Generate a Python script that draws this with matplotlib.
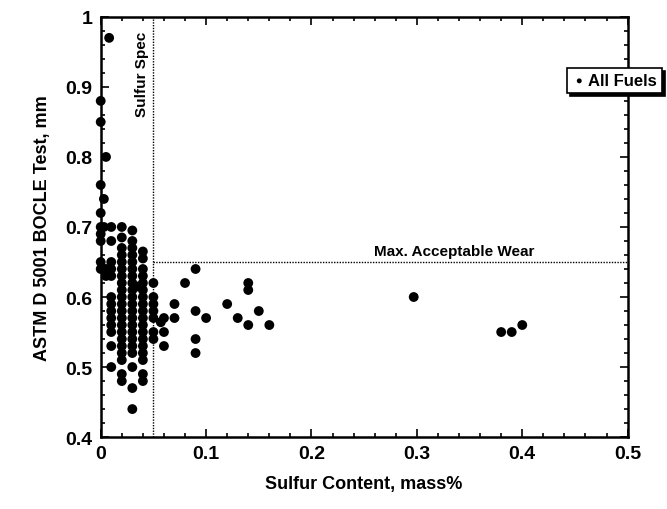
import numpy as np
import matplotlib
matplotlib.use("Agg")
import matplotlib.pyplot as plt
from matplotlib.ticker import MultipleLocator

plt.rcParams["font.family"] = ["Liberation Sans", "DejaVu Sans"]
plt.rcParams["font.weight"] = "bold"

# Data: sulfur content (mass%) vs BOCLE wear scar (mm), grouped by sulfur level
sulfur_0 = [0.0] * 9
wear_0 = [0.88, 0.85, 0.76, 0.72, 0.70, 0.69, 0.68, 0.65, 0.64]

sulfur_003 = [0.003] * 3
wear_003 = [0.74, 0.70, 0.64]

sulfur_005 = [0.005] * 3
wear_005 = [0.80, 0.64, 0.63]

sulfur_008 = [0.008]
wear_008 = [0.97]

sulfur_01 = [0.01] * 13
wear_01 = [0.70, 0.68, 0.65, 0.64, 0.63, 0.60, 0.59, 0.58, 0.57, 0.56, 0.55, 0.53, 0.50]

wear_02 = [0.70, 0.685, 0.67, 0.66, 0.65, 0.64, 0.63, 0.62, 0.61, 0.60, 0.59, 0.58,
           0.57, 0.56, 0.55, 0.54, 0.53, 0.52, 0.51, 0.49, 0.48]
sulfur_02 = [0.02] * len(wear_02)

wear_03 = [0.695, 0.68, 0.67, 0.66, 0.65, 0.64, 0.63, 0.62, 0.61, 0.60, 0.59, 0.58,
           0.57, 0.56, 0.55, 0.54, 0.53, 0.52, 0.50, 0.47, 0.44]
sulfur_03 = [0.03] * len(wear_03)

sulfur_035 = [0.035]
wear_035 = [0.615]

wear_04 = [0.665, 0.655, 0.64, 0.63, 0.62, 0.61, 0.60, 0.59, 0.58, 0.57, 0.56, 0.55,
           0.54, 0.53, 0.52, 0.51, 0.49, 0.48]
sulfur_04 = [0.04] * len(wear_04)

wear_05 = [0.62, 0.60, 0.59, 0.58, 0.57, 0.55, 0.54]
sulfur_05 = [0.05] * len(wear_05)

sulfur_high = [0.057, 0.06, 0.06, 0.06, 0.07, 0.07, 0.08, 0.09, 0.09, 0.09, 0.09,
               0.10, 0.12, 0.13, 0.14, 0.14, 0.14, 0.15, 0.16, 0.297, 0.38, 0.39, 0.40]
wear_high = [0.564, 0.57, 0.55, 0.53, 0.59, 0.57, 0.62, 0.64, 0.58, 0.54, 0.52,
             0.57, 0.59, 0.57, 0.62, 0.61, 0.56, 0.58, 0.56, 0.60, 0.55, 0.55, 0.56]

sulfur_spec = 0.05
max_wear = 0.65

x = np.concatenate([sulfur_0, sulfur_003, sulfur_005, sulfur_008, sulfur_01, sulfur_02,
                    sulfur_03, sulfur_035, sulfur_04, sulfur_05, sulfur_high])
y = np.concatenate([wear_0, wear_003, wear_005, wear_008, wear_01, wear_02,
                    wear_03, wear_035, wear_04, wear_05, wear_high])

fig = plt.figure(figsize=(6.67, 5.10), dpi=100, facecolor="white")
ax = fig.add_axes([0.151, 0.141, 0.790, 0.824])

ax.scatter(x, y, s=50, color="black", edgecolors="none", zorder=3,
           clip_on=False, label="All Fuels")

# Spec lines
ax.axvline(sulfur_spec, color="black", linestyle=(0, (1, 1)), linewidth=1.0, zorder=2)
ax.plot([sulfur_spec, 0.5], [max_wear, max_wear], color="black",
        linestyle=(0, (1, 1)), linewidth=1.0, zorder=2)
ax.text(0.046, 0.92, "Sulfur Spec", rotation=90, ha="right", va="center",
        fontsize=11, fontweight="bold")
ax.text(0.335, 0.656, "Max. Acceptable Wear", ha="center", va="bottom",
        fontsize=11, fontweight="bold")

ax.set_xlim(0, 0.5)
ax.set_ylim(0.4, 1.0)
ax.xaxis.set_minor_locator(MultipleLocator(0.02))
ax.yaxis.set_minor_locator(MultipleLocator(0.02))
ax.set_xticks([0, 0.1, 0.2, 0.3, 0.4, 0.5])
ax.set_xticklabels(["0", "0.1", "0.2", "0.3", "0.4", "0.5"])
ax.set_yticks([0.4, 0.5, 0.6, 0.7, 0.8, 0.9, 1.0])
ax.set_yticklabels(["0.4", "0.5", "0.6", "0.7", "0.8", "0.9", "1"])
ax.tick_params(which="both", direction="in", top=True, right=True,
               labelsize=14, width=1.2, pad=6)
ax.tick_params(which="major", length=6)
ax.tick_params(which="minor", length=3)
for sp in ax.spines.values():
    sp.set_linewidth(1.8)

ax.set_xlabel("Sulfur Content, mass%", fontsize=13, fontweight="bold", labelpad=9)
ax.set_ylabel("ASTM D 5001 BOCLE Test, mm", fontsize=13, fontweight="bold", labelpad=10)

leg = ax.legend(loc="center", bbox_to_anchor=(0.975, 0.848), fontsize=12,
                frameon=True, fancybox=False, edgecolor="black", framealpha=1,
                shadow={"color": "black", "alpha": 1}, markerscale=0.5,
                handletextpad=0.1, handlelength=0.9, borderpad=0.3,
                borderaxespad=0)
leg.get_frame().set_linewidth(1.2)

fig.savefig("out.png", dpi=100, facecolor="white")
